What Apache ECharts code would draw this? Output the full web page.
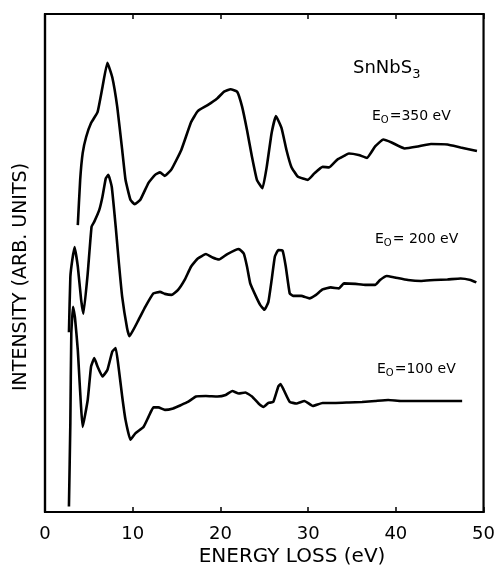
<!DOCTYPE html>
<html>
<head>
<meta charset="utf-8">
<script src="https://cdn.jsdelivr.net/npm/echarts@6/dist/echarts.min.js"></script>
<style>html,body{margin:0;padding:0;background:#fff;}#c{width:498px;height:565px;}</style>
</head>
<body>
<div id="c"></div>
<script>
// Energy loss (eV), intensity (arbitrary units)
const xTicks = [0, 10, 20, 30, 40, 50];
const e350_x = [3.74,4.01,4.30,4.69,5.25,5.99,6.55,7.11,7.67,8.24,8.80,9.18,9.74,10.22,10.87,11.80,12.55,13.11,13.67,14.42,15.54,16.66,17.42,18.54,19.66,20.42,21.16,21.91,22.47,23.03,23.60,24.16,24.80,25.28,25.84,26.33,26.97,27.53,28.09,28.84,29.97,30.71,31.65,32.39,33.34,34.08,34.64,35.76,36.71,37.64,38.57,39.52,41.01,42.51,44.01,45.88,47.38,49.25];
const e350_y = [57.6,66.7,72.1,75.3,78.1,80.3,85.3,90.2,87.3,81.3,72.7,66.7,62.7,61.8,62.7,66.1,67.7,68.2,67.5,68.8,72.7,78.3,80.5,81.7,83.1,84.4,84.9,84.4,81.4,76.7,71.3,66.7,65.0,69.3,76.1,79.5,77.1,72.7,69.3,67.3,66.7,68.0,69.3,69.2,70.8,71.5,72.0,71.7,71.1,73.4,74.8,74.2,73.0,73.4,73.9,73.8,73.2,72.5];
const e200_x = [2.73,2.89,3.11,3.37,3.74,4.12,4.38,4.87,5.31,5.62,6.18,6.55,6.93,7.22,7.61,8.06,8.43,8.80,9.36,9.63,10.67,11.43,12.36,13.11,13.67,14.42,15.17,15.92,16.66,17.42,18.35,19.10,19.85,20.79,22.10,22.66,23.03,23.40,23.97,24.53,25.02,25.47,25.84,26.21,26.60,27.08,27.45,27.90,28.28,29.21,30.15,30.90,31.65,32.58,33.52,34.08,35.39,36.52,37.64,38.20,38.96,39.89,41.38,42.89,44.38,45.88,47.38,48.51,49.18];
const e200_y = [36.1,47.2,50.6,53.2,49.3,42.6,39.8,47.9,57.3,58.3,60.6,63.3,67.0,67.7,65.3,57.3,49.9,43.2,36.9,35.3,38.6,41.2,43.9,44.2,43.8,43.6,44.6,46.6,49.3,50.9,51.8,51.1,50.7,51.8,52.8,51.9,49.3,45.9,43.6,41.6,40.6,42.2,46.6,51.3,52.6,52.5,49.3,43.9,43.4,43.4,42.9,43.6,44.7,45.1,44.9,45.9,45.8,45.6,45.6,46.6,47.4,47.1,46.6,46.4,46.6,46.7,46.9,46.6,46.1];
const e100_x = [2.73,2.89,3.00,3.20,3.42,3.74,4.30,4.87,5.25,5.62,5.99,6.55,7.11,7.67,8.06,8.43,8.80,9.18,9.74,10.30,11.24,11.80,12.36,12.92,13.67,14.61,15.54,16.29,17.22,18.35,19.66,20.60,21.35,22.10,22.84,23.60,24.35,24.91,25.47,26.03,26.60,26.85,27.22,27.90,28.65,29.58,30.53,31.65,33.15,34.64,36.15,37.64,39.13,40.64,42.13,43.63,45.13,46.26,47.56];
const e100_y = [1.1,17.9,35.9,41.2,39.0,32.5,17.1,22.5,29.2,30.9,29.2,27.2,28.5,32.2,32.9,28.5,23.2,18.5,14.5,15.8,17.1,19.1,21.0,21.0,20.5,20.8,21.5,22.1,23.2,23.3,23.2,23.5,24.3,23.8,24.0,23.2,21.8,21.1,21.9,22.1,25.2,25.7,24.5,22.1,21.8,22.3,21.3,21.9,21.9,22.0,22.1,22.3,22.5,22.3,22.3,22.3,22.3,22.3,22.3];

const zip = (xs, ys) => xs.map((x, i) => [x, ys[i]]);
const FONT = 'DejaVu Sans';
const chart = echarts.init(document.getElementById('c'), null, {renderer: 'canvas'});
const lineSeries = (name, xs, ys) => ({
  name, type: 'line', data: zip(xs, ys), showSymbol: false, smooth: 0.12,
  lineStyle: {color: '#000', width: 2.6}, xAxisIndex: 0, yAxisIndex: 0
});
const eLabel = (txt) => '{a|E}{b|O}{a|' + txt + '}';
const eRich = {
  a: {fontFamily: FONT, fontSize: 14, color: '#000'},
  b: {fontFamily: FONT, fontSize: 10, color: '#000', verticalAlign: 'bottom', padding: [0, 1, -2, 0]}
};
chart.setOption({
  animation: false,
  backgroundColor: '#fff',
  grid: {left: 45, right: 10, top: 14, bottom: 53, show: true, borderColor: '#000', borderWidth: 2.2},
  xAxis: [{
    type: 'value', min: xTicks[0], max: xTicks[xTicks.length - 1], interval: 10,
    axisLine: {show: true, lineStyle: {color: '#000', width: 2.2}},
    axisTick: {show: true, inside: true, length: 5, lineStyle: {color: '#000', width: 1.5}},
    axisLabel: {color: '#000', fontFamily: FONT, fontSize: 18, margin: 13},
    splitLine: {show: false}
  }, {
    type: 'value', position: 'top', min: 0, max: 50, interval: 10,
    axisLine: {show: true, lineStyle: {color: '#000', width: 2.2}},
    axisTick: {show: true, inside: true, length: 5, lineStyle: {color: '#000', width: 1.5}},
    axisLabel: {show: false}, splitLine: {show: false}
  }],
  yAxis: [{
    type: 'value', min: 0, max: 100,
    axisLine: {show: true, lineStyle: {color: '#000', width: 2.2}},
    axisTick: {show: false}, axisLabel: {show: false}, splitLine: {show: false}
  }],
  series: [
    lineSeries('Eo=350 eV', e350_x, e350_y),
    lineSeries('Eo=200 eV', e200_x, e200_y),
    lineSeries('Eo=100 eV', e100_x, e100_y)
  ],
  graphic: [
    {type: 'text', x: 21, y: 277, rotation: Math.PI / 2,
     style: {text: 'INTENSITY (ARB. UNITS)', fontFamily: FONT, fontSize: 19, fill: '#000', align: 'center', verticalAlign: 'middle'}},
    {type: 'text', x: 292, y: 557,
     style: {text: 'ENERGY LOSS (eV)', fontFamily: FONT, fontSize: 20, fill: '#000', align: 'center', verticalAlign: 'middle'}},
    {type: 'text', x: 353, y: 59,
     style: {text: '{a|SnNbS}{b|3}', rich: {a: {fontFamily: FONT, fontSize: 18, color: '#000'}, b: {fontFamily: FONT, fontSize: 13, color: '#000', verticalAlign: 'bottom', padding: [0, 0, -4, 0]}}}},
    {type: 'text', x: 372, y: 109, style: {text: eLabel('=350 eV'), rich: eRich}},
    {type: 'text', x: 375, y: 232, style: {text: eLabel('= 200 eV'), rich: eRich}},
    {type: 'text', x: 377, y: 362, style: {text: eLabel('=100 eV'), rich: eRich}}
  ]
});
</script>
</body>
</html>
